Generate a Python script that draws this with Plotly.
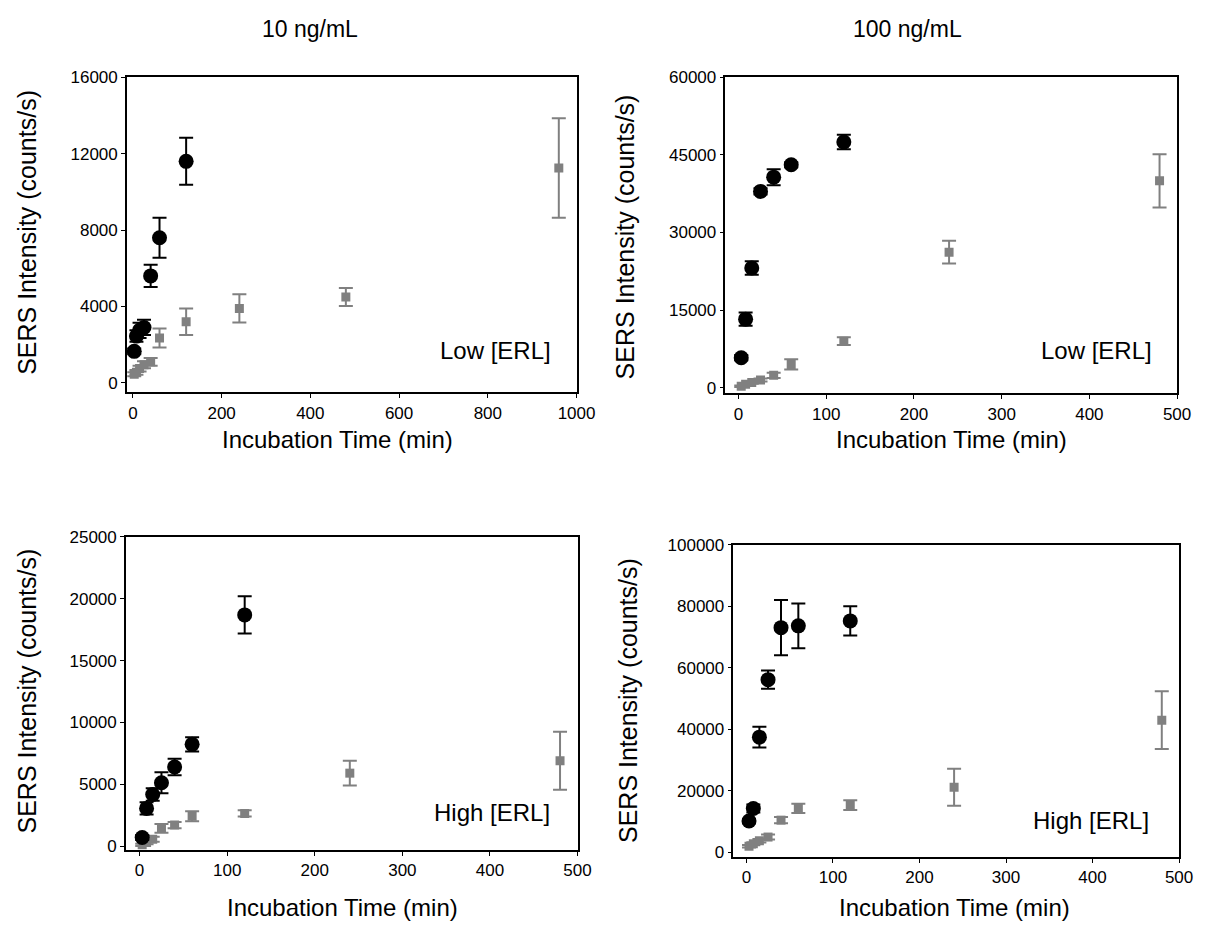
import plotly.graph_objects as go

# incubation times (min)
t_black = [3, 8, 15, 25, 40, 60, 120]
t_gray = [3, 8, 15, 25, 40, 60, 120, 240, 480]
t_gray_10low = [3, 8, 15, 25, 40, 60, 120, 240, 480, 960]

# 10 ng/mL, Low [ERL]
tl_black = [1650, 2450, 2750, 2900, 5600, 7600, 11600]
tl_black_err = [150, 300, 400, 400, 580, 1050, 1230]
tl_gray = [450, 550, 750, 950, 1100, 2350, 3200, 3900, 4500, 11250]
tl_gray_err = [100, 120, 150, 180, 200, 500, 700, 740, 470, 2610]

# 100 ng/mL, Low [ERL]
tr_black = [5800, 13250, 23150, 37950, 40700, 43100, 47500]
tr_black_err = [500, 1280, 1300, 600, 1550, 500, 1400]
tr_gray = [300, 650, 1000, 1500, 2400, 4500, 9000, 26200, 40000]
tr_gray_err = [150, 200, 250, 300, 500, 1000, 730, 2200, 5150]

# 10 ng/mL, High [ERL]
bl_black = [700, 3050, 4170, 5130, 6400, 8230, 18700]
bl_black_err = [200, 500, 500, 850, 660, 570, 1500]
bl_gray = [100, 300, 550, 1430, 1700, 2420, 2640, 5900, 6900]
bl_gray_err = [100, 150, 200, 350, 250, 400, 250, 1000, 2350]

# 100 ng/mL, High [ERL]
br_black = [10200, 14300, 37500, 56200, 73100, 73700, 75300]
br_black_err = [700, 1300, 3400, 3000, 9000, 7300, 4750]
br_gray = [2000, 2800, 3800, 5000, 10500, 14300, 15400, 21200, 43000]
br_gray_err = [400, 500, 600, 800, 1000, 1500, 1600, 6000, 9400]

col_titles = ["10 ng/mL", "100 ng/mL"]
labels = ["Low [ERL]", "Low [ERL]", "High [ERL]", "High [ERL]"]

W, H = 1205, 945
FONT = "Liberation Sans, Arial, sans-serif"

# the page shows up a bit offset/shrunk, so convert wanted screen px to figure px
def sx(p):
    return (p - 8) / 0.985

def sy(p):
    return (p - 14.5) / 0.987

def dom_x(a, b):
    return [sx(a) / W, sx(b) / W]

def dom_y(top, bottom):
    return [1 - sy(bottom) / H, 1 - sy(top) / H]

def pap(x, y):
    return sx(x) / W, 1 - sy(y) / H

panels = [
    dict(xd=dom_x(127, 577), yd=dom_y(75, 391), xr=[-13.5, 1000], xdt=200, yr=[-500, 16000], ydt=4000,
         tb=t_black, yb=tl_black, eb=tl_black_err, tg=t_gray_10low, yg=tl_gray, eg=tl_gray_err,
         lab=(496, 349), xt=(338, 438), yt=(27, 230)),
    dict(xd=dom_x(726, 1178), yd=dom_y(75, 392), xr=[-15, 500], xdt=100, yr=[-1100, 60000], ydt=15000,
         tb=t_black, yb=tr_black, eb=tr_black_err, tg=t_gray, yg=tr_gray, eg=tr_gray_err,
         lab=(1097, 349), xt=(952, 438), yt=(625, 235)),
    dict(xd=dom_x(126, 578), yd=dom_y(536, 850), xr=[-15.6, 500], xdt=100, yr=[-320, 25000], ydt=5000,
         tb=t_black, yb=bl_black, eb=bl_black_err, tg=t_gray, yg=bl_gray, eg=bl_gray_err,
         lab=(492, 812), xt=(343, 908), yt=(27, 690)),
    dict(xd=dom_x(734, 1180), yd=dom_y(544, 857), xr=[-15, 500], xdt=100, yr=[-1500, 100000], ydt=20000,
         tb=t_black, yb=br_black, eb=br_black_err, tg=t_gray, yg=br_gray, eg=br_gray_err,
         lab=(1092, 820), xt=(955, 908), yt=(628, 700)),
]

fig = go.Figure()
layout = dict(width=W, height=H, margin=dict(l=0, r=0, t=0, b=0),
              plot_bgcolor="white", paper_bgcolor="white", showlegend=False,
              font=dict(family=FONT, color="black"))
annotations = []

for i, p in enumerate(panels):
    n = "" if i == 0 else str(i + 1)
    xa, ya = "x" + n, "y" + n
    # gray squares first, black circles on top
    fig.add_trace(go.Scatter(x=p["tg"], y=p["yg"], mode="markers", xaxis=xa, yaxis=ya,
                             marker=dict(symbol="square", size=9, color="#808080"),
                             error_y=dict(type="data", array=p["eg"], color="#808080", thickness=2, width=7)))
    fig.add_trace(go.Scatter(x=p["tb"], y=p["yb"], mode="markers", xaxis=xa, yaxis=ya,
                             marker=dict(symbol="circle", size=15, color="black"),
                             error_y=dict(type="data", array=p["eb"], color="black", thickness=2, width=7)))
    axis_common = dict(showline=True, linecolor="black", linewidth=1.5, mirror=True,
                       ticks="outside", ticklen=4, tickcolor="black", showgrid=False, zeroline=False,
                       tickfont=dict(size=17, family=FONT, color="black"))
    layout["xaxis" + n] = dict(axis_common, domain=p["xd"], range=p["xr"], dtick=p["xdt"], tick0=0, anchor=ya)
    layout["yaxis" + n] = dict(axis_common, domain=p["yd"], range=p["yr"], dtick=p["ydt"], tick0=0,
                               tickformat="d", anchor=xa)
    lx, ly = pap(*p["lab"])
    annotations.append(dict(text=labels[i], xref="paper", yref="paper", x=lx, y=ly,
                            xanchor="center", yanchor="middle", showarrow=False,
                            font=dict(size=24, family=FONT, color="black")))
    tx, ty = pap(*p["xt"])
    annotations.append(dict(text="Incubation Time (min)", xref="paper", yref="paper", x=tx, y=ty,
                            xanchor="center", yanchor="middle", showarrow=False,
                            font=dict(size=24, family=FONT, color="black")))
    vx, vy = pap(*p["yt"])
    annotations.append(dict(text="SERS Intensity (counts/s)", xref="paper", yref="paper", x=vx, y=vy,
                            xanchor="center", yanchor="middle", textangle=-90, showarrow=False,
                            font=dict(size=25, family=FONT, color="black")))

for title, cx in zip(col_titles, [310, 908]):
    ax, ay = pap(cx, 27)
    annotations.append(dict(text=title, xref="paper", yref="paper", x=ax, y=ay,
                            xanchor="center", yanchor="middle", showarrow=False,
                            font=dict(size=23, family=FONT, color="black")))

layout["annotations"] = annotations
fig.update_layout(**layout)

fig.write_html("out.html")
